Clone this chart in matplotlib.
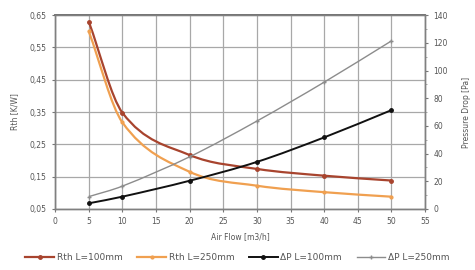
import numpy as np
import matplotlib
matplotlib.use('Agg')
import matplotlib.pyplot as plt
from matplotlib.path import Path
from matplotlib.patches import PathPatch
from matplotlib.lines import Line2D

# 데이터
air_flow = [5, 10, 20, 30, 40, 50]
rth_100 = [0.63, 0.348, 0.217, 0.174, 0.153, 0.138]
rth_250 = [0.60, 0.318, 0.165, 0.122, 0.102, 0.088]
dp_100 = [4.1, 8.9, 20.4, 34.0, 51.7, 71.4]
dp_250 = [8.9, 16.5, 37.7, 63.5, 91.6, 121.4]

rth_ticks = [0.05, 0.15, 0.25, 0.35, 0.45, 0.55, 0.65]
dp_ticks = [0, 20, 40, 60, 80, 100, 120, 140]
x_ticks = list(range(0, 60, 5))

c_rth100 = '#a8442e'
c_rth250 = '#f0a050'
c_dp100 = '#111111'
c_dp250 = '#8c8c8c'
txt = '#555555'


# 부드러운 곡선 (Hermite 접선 -> Bezier 제어점)
def smooth_path(xs, ys):
    x = np.asarray(xs, float)
    y = np.asarray(ys, float)
    n = len(x)
    m = np.zeros(n)
    m[0] = (y[1] - y[0]) / (x[1] - x[0])
    m[-1] = (y[-1] - y[-2]) / (x[-1] - x[-2])
    for i in range(1, n - 1):
        m[i] = (y[i + 1] - y[i - 1]) / (x[i + 1] - x[i - 1])
    verts = [(x[0], y[0])]
    codes = [Path.MOVETO]
    for i in range(n - 1):
        h = x[i + 1] - x[i]
        verts += [(x[i] + h / 3, y[i] + m[i] * h / 3),
                  (x[i + 1] - h / 3, y[i + 1] - m[i + 1] * h / 3),
                  (x[i + 1], y[i + 1])]
        codes += [Path.CURVE4] * 3
    return Path(verts, codes)


def draw(ax, xs, ys, color, lw, marker, ms):
    ax.add_patch(PathPatch(smooth_path(xs, ys), facecolor='none',
                           edgecolor=color, lw=lw, zorder=3))
    ax.plot(xs, ys, ls='none', marker=marker, ms=ms, color=color, zorder=4)


fig = plt.figure(figsize=(4.75, 2.7), dpi=100)
ax = fig.add_axes([0.116, 0.226, 0.779, 0.718])
ax2 = ax.twinx()

ax.set_xlim(0, 55)
ax.set_ylim(0.05, 0.65)
ax2.set_ylim(0, 140)

ax.set_xticks(x_ticks)
ax.set_yticks(rth_ticks)
ax.set_yticklabels([f'{v:.2f}'.replace('.', ',') for v in rth_ticks])
ax2.set_yticks(dp_ticks)
ax2.set_yticks(np.arange(10, 140, 20), minor=True)

ax.grid(True, color='#a8a8a8', lw=0.9)
ax.set_axisbelow(True)
for a in (ax, ax2):
    a.tick_params(labelsize=5.5, colors='#777777', labelcolor=txt,
                  length=2.5, width=0.8)
    for s in a.spines.values():
        s.set_color('#808080')
        s.set_linewidth(1.0)
ax.spines['top'].set_color('#666666')
ax.spines['top'].set_linewidth(1.3)
ax2.tick_params(which='minor', length=1.5, colors='#999999')

draw(ax, air_flow, rth_100, c_rth100, 1.6, 'o', 2.5)
draw(ax, air_flow, rth_250, c_rth250, 1.6, 'o', 2.0)
draw(ax2, air_flow, dp_100, c_dp100, 1.4, 'o', 2.5)
draw(ax2, air_flow, dp_250, c_dp250, 1.0, '+', 3.0)

ax.set_ylabel('Rth [K/W]', fontsize=5.5, color=txt, labelpad=8)
ax2.set_ylabel('Pressure Drop [Pa]', fontsize=5.5, color=txt, labelpad=10,
               rotation=90)
ax.set_xlabel('Air Flow [m3/h]', fontsize=5.5, color=txt, labelpad=4)

handles = [
    Line2D([], [], color=c_rth100, lw=1.6, marker='o', ms=2.5),
    Line2D([], [], color=c_rth250, lw=1.6, marker='o', ms=2.0),
    Line2D([], [], color=c_dp100, lw=1.4, marker='o', ms=2.5),
    Line2D([], [], color=c_dp250, lw=1.0, marker='+', ms=3.0),
]
labels = ['Rth L=100mm', 'Rth L=250mm', '\u0394P L=100mm', '\u0394P L=250mm']
fig.legend(handles, labels, loc='center', bbox_to_anchor=(0.5, 0.045),
           ncol=4, frameon=False, fontsize=6.5, labelcolor=txt,
           handlelength=3.2, handletextpad=0.3, columnspacing=1.6)

fig.savefig('out.png', dpi=100)
